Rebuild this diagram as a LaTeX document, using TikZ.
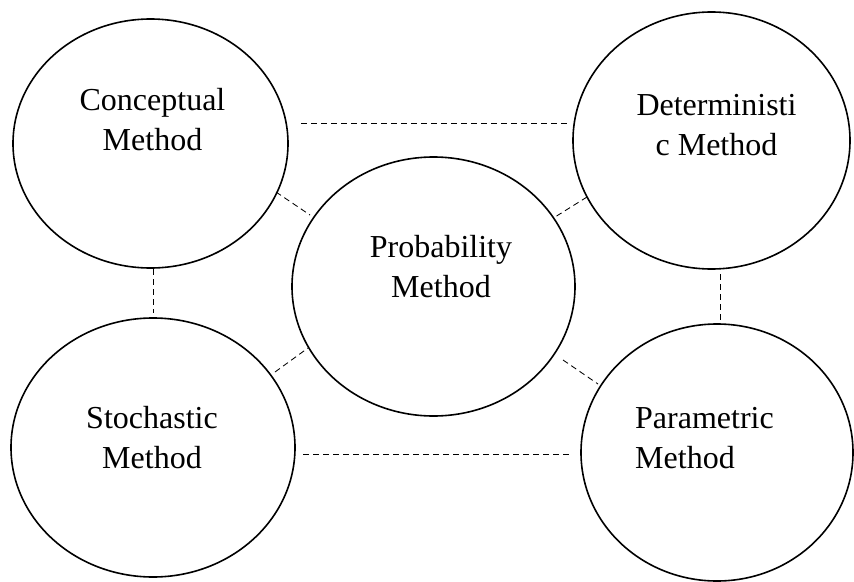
\documentclass[tikz,border=0pt]{standalone}
\usepackage{fontspec}
\setmainfont{Liberation Serif}
\usetikzlibrary{shapes.geometric}
\tikzset{
  circ/.style={ellipse, draw=black, line width=1.6pt, inner sep=0pt},
  lbl/.style={font=\fontsize{32}{40}\selectfont, inner sep=0pt, anchor=base},
  lblw/.style={font=\fontsize{32}{40}\selectfont, inner sep=0pt, anchor=base west},
  conn/.style={draw=black, line width=0.85pt, dash pattern=on 6pt off 4pt}
}
\begin{document}
\begin{tikzpicture}[x=1pt,y=-1pt]
\useasboundingbox (0,0) rectangle (854,581);
% circles
\node[circ, minimum width=275pt, minimum height=249pt] (concept) at (150.5,143.5) {};
\node[circ, minimum width=277pt, minimum height=257pt] (determ) at (711.5,140.5) {};
\node[circ, minimum width=283pt, minimum height=259pt] (prob) at (433.5,286.5) {};
\node[circ, minimum width=284pt, minimum height=259pt] (stoch) at (153,447.5) {};
\node[circ, minimum width=272pt, minimum height=257pt] (param) at (717,452.5) {};
% labels
\node[lbl] (conceptA) at (152.5,110) {Conceptual};
\node[lbl] (conceptB) at (152.5,150) {Method};
\node[lbl] (determA) at (716.5,115) {Deterministi};
\node[lbl] (determB) at (716.5,155) {c Method};
\node[lbl] (probA) at (441,257) {Probability};
\node[lbl] (probB) at (441,297) {Method};
\node[lbl] (stochA) at (152,428) {Stochastic};
\node[lbl] (stochB) at (152,468) {Method};
\node[lblw] (paramA) at (635,428) {Parametric};
\node[lblw] (paramB) at (635,468) {Method};
% connector end points
\coordinate (cdA) at (301,123);
\coordinate (cdB) at (567,123);
\coordinate (spA) at (303,454);
\coordinate (spB) at (570,454);
\coordinate (csA) at (153.5,269);
\coordinate (csB) at (153.5,313);
\coordinate (dpA) at (720,274);
\coordinate (dpB) at (720,323);
\coordinate (cprA) at (276,192);
\coordinate (cprB) at (310,215);
\coordinate (dprA) at (587,197);
\coordinate (dprB) at (555,217);
\coordinate (sprA) at (275,372);
\coordinate (sprB) at (308,348);
\coordinate (pprA) at (563,360);
\coordinate (pprB) at (598,384);
% connectors
\draw[conn] (cdA) -- (cdB);
\draw[conn] (spA) -- (spB);
\draw[conn] (csA) -- (csB);
\draw[conn] (dpA) -- (dpB);
\draw[conn] (cprA) -- (cprB);
\draw[conn] (dprA) -- (dprB);
\draw[conn] (sprA) -- (sprB);
\draw[conn] (pprA) -- (pprB);
\end{tikzpicture}
\end{document}
